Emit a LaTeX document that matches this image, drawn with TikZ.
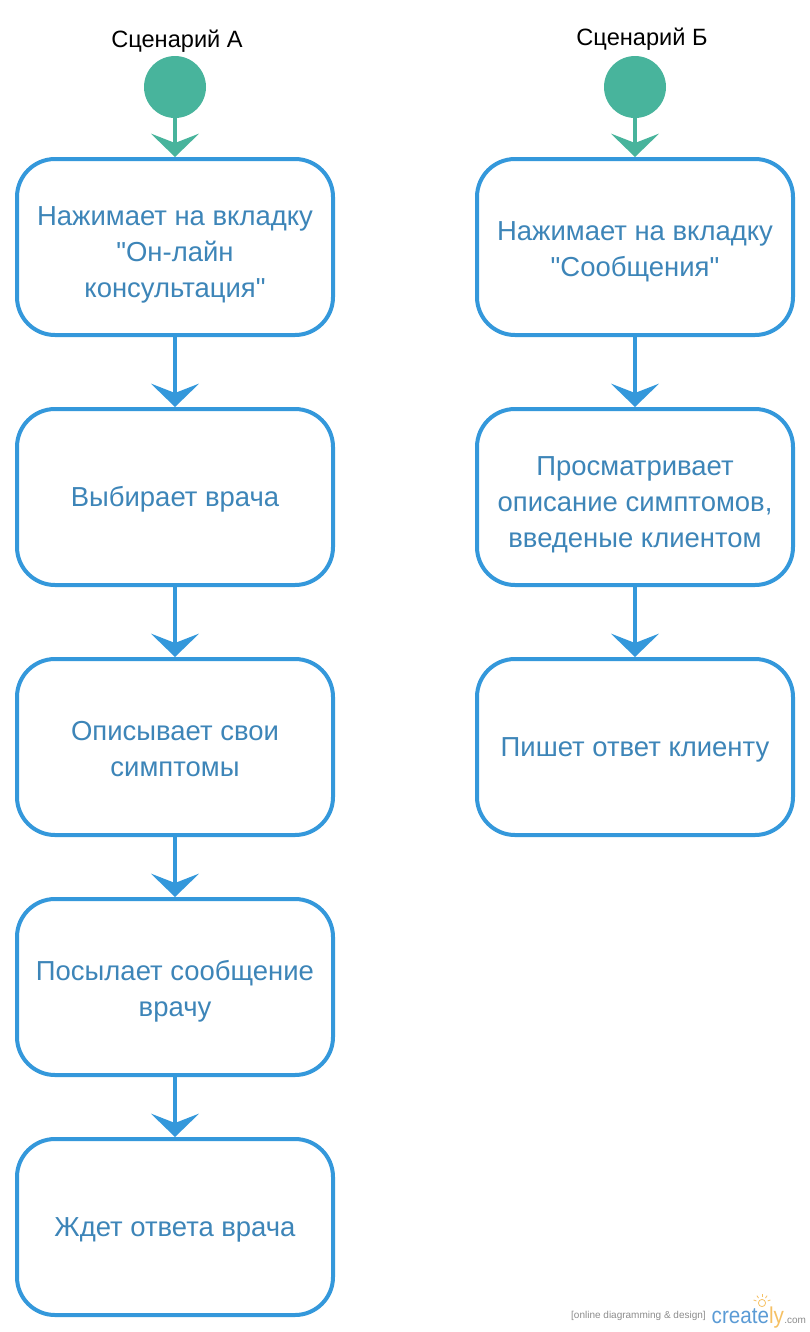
\documentclass[tikz,border=0pt]{standalone}
\usepackage{fontspec}
\setmainfont[Ligatures=TeXOff]{Liberation Sans}
\usetikzlibrary{arrows.meta,positioning}
\definecolor{lineblue}{HTML}{3498DB}
\definecolor{textblue}{HTML}{3D85B8}
\definecolor{startgreen}{HTML}{48B49C}
\definecolor{logoblue}{HTML}{5B9BD5}
\definecolor{logoorange}{HTML}{F5C063}
\definecolor{logogray}{HTML}{8C8C8C}
\newcommand{\ls}{\rule[-8.1pt]{0pt}{27pt}}
\newcommand{\lsa}{\rule[-8.1pt]{0pt}{30pt}}
\newcommand{\lsb}{\rule[-8.1pt]{0pt}{33pt}}
\newcommand{\lsc}{\rule[-8.1pt]{0pt}{37.5pt}}
\tikzset{
  x=0.75pt,y=-0.75pt,
  activity/.style={draw=lineblue,line width=3pt,rounded corners=28.5pt,fill=white,
    minimum width=237pt,minimum height=132pt,inner sep=0pt,
    text=textblue,align=center,font=\fontsize{20.6}{27}\selectfont},
  startdot/.style={circle,fill=startgreen,minimum size=46.5pt,inner sep=0pt},
  scenario/.style={text=black,inner sep=0pt,font=\fontsize{17.7}{20}\selectfont},
  flow/.style={draw=lineblue,line width=3pt,-{Stealth[length=17.5pt,width=36pt,inset=7pt,color=lineblue]}},
  startflow/.style={draw=startgreen,line width=3pt,-{Stealth[length=17.5pt,width=36pt,inset=7pt,color=startgreen]}},
}
\begin{document}
\begin{tikzpicture}
\useasboundingbox (0,0) rectangle (810,1332);
\node[scenario] (sa) at (177,41) {Сценарий А};
\node[scenario] (sb) at (642,39) {Сценарий Б};
\node[startdot] (da) at (175,87) {};
\node[startdot] (db) at (635,87) {};
\node[activity] (a1) at (175,247) {\lsc Нажимает на вкладку\\\ls "Он-лайн\\\ls консультация"};
\node[activity] (a2) at (175,497) {\lsa Выбирает врача};
\node[activity] (a3) at (175,747) {\lsb Описывает свои\\\ls симптомы};
\node[activity] (a4) at (175,987) {\lsb Посылает сообщение\\\ls врачу};
\node[activity] (a5) at (175,1227) {\lsa Ждет ответа врача};
\node[activity] (b1) at (635,247) {\lsb Нажимает на вкладку\\\ls "Сообщения"};
\node[activity] (b2) at (635,497) {\lsc Просматривает\\\ls описание симптомов,\\\ls введеные клиентом};
\node[activity] (b3) at (635,747) {\lsa Пишет ответ клиенту};
\draw[startflow] (da) -- (a1);
\draw[startflow] (db) -- (b1);
\draw[flow] (a1) -- (a2);
\draw[flow] (a2) -- (a3);
\draw[flow] (a3) -- (a4);
\draw[flow] (a4) -- (a5);
\draw[flow] (b1) -- (b2);
\draw[flow] (b2) -- (b3);
% logo
\node[anchor=east,inner sep=0pt,text=logogray,font=\fontsize{7.5}{8}\selectfont] (lg1) at (706,1316) {[online diagramming \& design]};
\node[anchor=base west,inner sep=0pt,xscale=0.9,text=logoblue,font=\fontsize{17.2}{20}\selectfont] (lg2) at (711.5,1323) {create\textcolor{logoorange}{ly}};
\node[anchor=base west,inner sep=0pt,text=logogray,font=\fontsize{7.5}{8}\selectfont] (lg3) at (784,1323) {.com};
\draw[logoorange,line width=.6pt] (762,1303) circle (3.6);
\foreach \a in {-160,-125,-90,-55,-20}{
  \draw[logoorange,line width=.6pt] (762,1303) ++(\a:6) -- ++(\a:3);
}
\end{tikzpicture}
\end{document}
